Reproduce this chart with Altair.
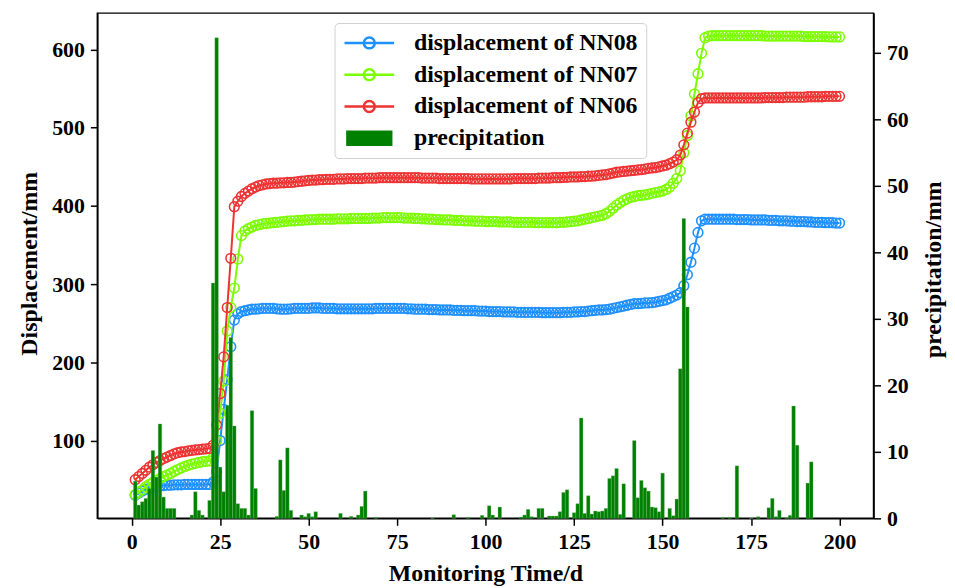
import altair as alt
import pandas as pd

days = list(range(1, 201))

nn08 = [
    30, 33, 35.5, 37.5, 39, 40.5, 41.5, 42, 42.5, 43,
    43, 43.5, 43.5, 43.5, 44, 44, 44, 44, 44, 44,
    44, 44, 47, 60, 100, 140, 178, 220, 254, 262,
    265, 266, 267, 268, 268, 268.5, 269, 269, 269, 269,
    268.5, 268, 268, 268, 268.5, 269, 269, 269, 269, 269,
    269.5, 269.5, 269.5, 269, 269, 269, 269, 268.5, 268.5, 268.5,
    268.5, 268.5, 268.5, 268.5, 268.5, 268.5, 268.5, 268.5, 269, 269,
    269, 269, 269, 269, 269, 269, 269, 268.5, 268.5, 268,
    268, 268, 268, 267.5, 267.5, 267.5, 267, 267, 267, 267,
    266.5, 266.5, 266.5, 266, 266, 266, 266, 265.5, 265.5, 265.5,
    265, 265, 265, 265, 264.5, 264.5, 264.5, 264.5, 264, 264,
    264, 264, 264, 264, 264, 263.5, 263.5, 263.5, 263.5, 263.5,
    263.5, 264, 264, 264, 264.5, 264.5, 265, 265, 265.5, 266,
    266.5, 267, 267, 267.5, 268, 269, 270, 271, 272, 273,
    274, 275, 275, 275.5, 276, 276, 276.5, 277, 278, 279,
    280, 282, 284, 286, 289, 298, 312, 328, 346, 366,
    381, 383, 383, 383, 383, 383, 383, 383, 383, 383,
    382.5, 382.5, 382.5, 382.5, 382, 382, 382, 382, 382, 381.5,
    381.5, 381.5, 381, 381, 381, 380.5, 380.5, 380, 380, 380,
    379.5, 379.5, 379, 379, 379, 378.5, 378.5, 378.5, 378, 378,
]

nn07 = [
    31, 34, 37, 41, 44, 46.5, 49, 51.5, 54, 56,
    58, 60.5, 63, 65, 67, 68.5, 70, 71, 72, 73,
    73.5, 74, 78, 100, 135, 176, 240, 270, 295, 332,
    362, 368, 371, 373, 375, 376, 377, 377.5, 378, 378.5,
    379, 379.5, 380, 380.5, 381, 381, 381.5, 381.5, 382, 382,
    382.5, 382.5, 383, 383, 383, 383, 383, 383.5, 383.5, 383.5,
    383.5, 384, 384, 384, 384, 384, 384, 384.5, 384.5, 384.5,
    385, 385, 385, 385, 385, 385, 384.5, 384.5, 384.5, 384,
    384, 383.5, 383.5, 383, 383, 382.5, 382.5, 382, 382, 382,
    381.5, 381.5, 381.5, 381, 381, 381, 380.5, 380.5, 380.5, 380,
    380, 380, 380, 379.5, 379.5, 379.5, 379.5, 379, 379, 379,
    379, 379, 379, 378.5, 378.5, 378.5, 378.5, 378.5, 378.5, 378.5,
    379, 379, 379.5, 380, 380.5, 381, 382, 383, 384, 385,
    386, 387, 388, 390, 393, 397, 401, 404, 407, 409,
    411, 412, 413, 413.5, 414, 415, 416, 417, 418, 419,
    421, 424, 429, 435, 445, 468, 490, 515, 543, 569,
    595, 615, 617, 617.5, 617.5, 617.5, 617.5, 617.5, 617.5, 617.5,
    617.5, 617.5, 617.5, 617.5, 617.5, 617.5, 617.5, 617.5, 617, 617,
    617, 617, 617, 617, 617, 617, 617, 617, 617, 616.5,
    616.5, 616.5, 616.5, 616.5, 616.5, 616.5, 616, 616, 616, 616,
]

nn06 = [
    50, 54, 58, 62, 66, 69, 72, 74.5, 77, 79,
    81, 83, 84.5, 85.5, 86, 87, 87.5, 88, 88.5, 89,
    89.5, 90, 94, 120, 160, 207, 270, 333, 399, 406,
    412, 416, 419, 422, 424, 426, 427, 428, 428.5, 429,
    429, 429.5, 429.5, 430, 430, 430.5, 431, 431.5, 432, 432.5,
    433, 433, 433.5, 433.5, 434, 434, 434, 434.5, 434.5, 434.5,
    435, 435, 435, 435, 435, 435.5, 435.5, 435.5, 435.5, 436,
    436, 436, 436, 436, 436, 436, 436, 436, 436, 436,
    436, 435.5, 435.5, 435.5, 435.5, 435.5, 435, 435, 435, 435,
    435, 435, 435, 435, 435, 434.5, 434.5, 434.5, 434.5, 434.5,
    434.5, 434.5, 434.5, 434.5, 434.5, 434.5, 434.5, 435, 435, 435,
    435, 435, 435, 435, 435.5, 435.5, 435.5, 435.5, 436, 436,
    436, 436.5, 436.5, 437, 437, 437, 437.5, 437.5, 438, 438,
    438.5, 439, 439.5, 440, 441, 442, 443, 443.5, 444, 444.5,
    445, 445.5, 446, 446.5, 447, 448, 448.5, 449, 450, 451,
    452, 454, 456, 459, 465, 478, 493, 507, 520, 532,
    537, 538, 538, 538, 538, 538, 538, 538, 538, 538,
    538, 538, 538, 538, 538, 538, 538, 538, 538.5, 538.5,
    538.5, 538.5, 538.5, 538.5, 539, 539, 539, 539, 539, 539,
    539.5, 539.5, 539.5, 539.5, 539.5, 540, 540, 540, 540, 540,
]

precip = [
    5.6, 2.0, 2.5, 3.0, 4.5, 10.2, 6.2, 14.2, 3.2, 1.5,
    1.5, 1.5, 0, 0, 0, 0, 0.5, 4.0, 1.2, 0.5,
    0, 2.7, 35.4, 72.3, 7.7, 4.0, 17.0, 27.2, 13.9, 2.2,
    1.5, 1.5, 0.5, 16.2, 4.5, 0, 0, 0, 0, 0,
    0.3, 8.8, 4.2, 10.6, 1.2, 0, 0, 0.5, 0.25, 0.75,
    0.25, 1.0, 0, 0, 0, 0, 0, 0, 0.75, 0,
    0, 0.3, 0, 0.5, 1.8, 4.1, 0, 0, 0.15, 0,
    0, 0, 0, 0, 0, 0, 0, 0, 0, 0,
    0, 0, 0, 0, 0.05, 0, 0, 0, 0, 0,
    0.55, 0, 0, 0, 0.15, 0, 0, 0, 0.45, 0,
    1.9, 0.5, 0, 1.7, 0, 0, 0, 0, 0, 0.2,
    0.5, 1.35, 0.25, 0, 1.5, 1.5, 0, 0.35, 0.35, 0.35,
    1.0, 3.9, 4.3, 0, 0.85, 2.2, 15.1, 0.75, 3.4, 0.65,
    1.1, 1.0, 1.1, 1.5, 6.0, 6.4, 7.5, 0.6, 5.2, 0,
    0, 11.7, 3.1, 5.7, 4.6, 4.1, 1.7, 1.6, 1.0, 6.8,
    0, 1.5, 0.4, 2.9, 22.5, 45.1, 31.8, 0, 0, 0,
    0, 0, 0, 0, 0, 0, 0.15, 0, 0.15, 0,
    7.9, 0, 0, 0, 0.05, 0, 0.25, 0, 0, 1.6,
    3.0, 0.25, 1.2, 0, 0.1, 0.45, 16.9, 11.0, 0, 0,
    5.3, 8.5, 0, 0, 0, 0, 0, 0, 0, 0,
]

series_names = [
    "displacement of NN08",
    "displacement of NN07",
    "displacement of NN06",
    "precipitation",
]
series_colors = ["#1E90FF", "#7CFC00", "#EE3333", "#008000"]

x_ticks = list(range(0, 201, 25))
left_ticks = [100, 200, 300, 400, 500, 600]
right_ticks = [0, 10, 20, 30, 40, 50, 60, 70]

disp = pd.DataFrame({
    "day": days * 3,
    "value": nn08 + nn07 + nn06,
    "series": [series_names[0]] * 200 + [series_names[1]] * 200 + [series_names[2]] * 200,
})
rain = pd.DataFrame({"day": days, "precip": precip})
rain = rain[rain["precip"] > 0]

FONT = "Liberation Serif"

x_axis = alt.Axis(
    values=x_ticks, title="Monitoring Time/d",
    titleX=391, titleY=56, titleAlign="center", titleBaseline="middle",
)
x_scale = alt.Scale(domain=[-9.7, 209.6], nice=False, zero=False)

# legend symbol: a line with an open circle; precipitation: a filled block drawn with stacked strokes
line_path = "M-1,0L4,0M0.95,0A0.55,0.55,0,1,1,2.05,0A0.55,0.55,0,1,1,0.95,0"
block_path = "".join(
    f"M-0.83,{y:.2f}L3.83,{y:.2f}" for y in [-0.65, -0.5, -0.35, -0.2, -0.05, 0.1, 0.25, 0.4, 0.55, 0.65]
)

legend = alt.Legend(
    orient="none",
    legendX=239,
    legendY=10,
    title=None,
    labelFont=FONT,
    labelFontWeight="bold",
    labelFontSize=24,
    labelColor="black",
    labelLimit=500,
    labelOffset=48,
    symbolSize=400,
    symbolStrokeWidth=2.5,
    symbolFillColor="transparent",
    symbolType=alt.ExprRef(expr=f"datum.value === 'precipitation' ? '{block_path}' : '{line_path}'"),
    rowPadding=8,
    padding=8,
    fillColor="white",
    strokeColor="#d0d0d0",
    cornerRadius=4,
)

color = alt.Color(
    "series:N",
    scale=alt.Scale(domain=series_names, range=series_colors),
    sort=series_names,
    legend=legend,
)

y_left = alt.Y(
    "value:Q",
    scale=alt.Scale(domain=[0.6, 646.4], nice=False, zero=False),
    axis=alt.Axis(
        values=left_ticks, title="Displacement/mm", orient="left",
        titleX=-68, titleY=252, titleAlign="center", titleBaseline="middle", titleAngle=270,
    ),
)


def line_layer(name):
    return (
        alt.Chart(disp)
        .transform_filter(alt.datum.series == name)
        .mark_line(
            strokeWidth=2,
            point=alt.OverlayMarkDef(shape="circle", filled=False, fill="transparent", size=95, strokeWidth=1.6),
        )
        .encode(
            x=alt.X("day:Q", scale=x_scale, axis=x_axis),
            y=y_left,
            color=color,
        )
    )


lines = alt.layer(*[line_layer(n) for n in series_names[:3]])

bars = (
    alt.Chart(rain)
    .transform_calculate(x0="datum.day - 0.5", x1="datum.day + 0.5")
    .mark_bar(color="#008000", stroke="#7fbf7f", strokeWidth=0.3)
    .encode(
        x=alt.X("x0:Q", scale=x_scale, axis=x_axis),
        x2="x1:Q",
        y=alt.Y(
            "precip:Q",
            scale=alt.Scale(domain=[0, 76], nice=False),
            axis=alt.Axis(
                values=right_ticks, title="precipitation/mm", orient="right",
                titleX=60, titleY=258, titleAlign="center", titleBaseline="middle", titleAngle=270,
            ),
        ),
        y2=alt.datum(0),
    )
)

chart = (
    alt.layer(lines, bars)
    .resolve_scale(y="independent")
    .properties(
        width=782,
        height=509,
        autosize=alt.AutoSizeParams(type="none"),
        padding={"left": 90, "top": 3, "right": 74, "bottom": 68},
    )
    .configure_view(stroke="black", strokeWidth=1.5)
    .configure_axis(
        grid=False,
        domainColor="black",
        domainWidth=1.5,
        tickColor="black",
        tickWidth=1.5,
        tickSize=7,
        labelPadding=6,
        labelFont=FONT,
        labelFontWeight="bold",
        labelFontSize=22,
        labelColor="black",
        titleFont=FONT,
        titleFontWeight="bold",
        titleFontSize=24,
        titleColor="black",
    )
)

chart.save("out.html", embed_options={"renderer": "svg", "actions": False})
